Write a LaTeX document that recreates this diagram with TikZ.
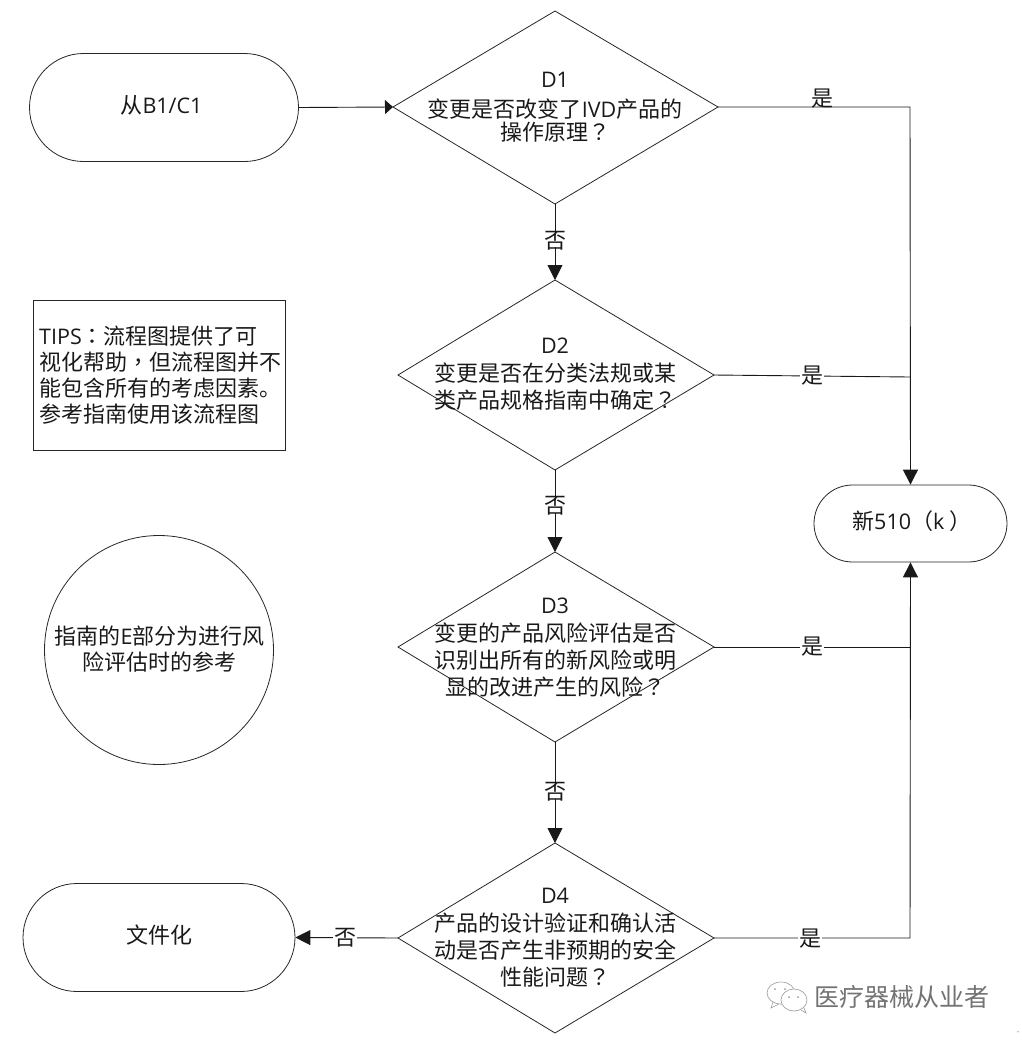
\documentclass[tikz,border=0pt]{standalone}
\usepackage{fontspec}
\setmainfont{Noto Sans CJK SC}
\newfontfamily\tcf{Noto Sans CJK TC}
\newfontfamily\lat{Open Sans}
\newcommand{\la}[1]{{\lat\fontsize{21.5}{27}\selectfont #1}}
\newcommand{\qm}{{\tcf ？}}
\newcommand{\cm}{{\tcf ，}}
\newcommand{\cl}{{\tcf ：}}
\usetikzlibrary{arrows.meta,shapes.geometric}
\tikzset{
  x=1pt,y=-1pt,
  every node/.style={font=\fontsize{22}{27}\selectfont,inner sep=0pt,text=black!90},
  line/.style={draw=black!90,line width=0.9pt},
  arr/.style={line,-{Triangle[length=15pt,width=15pt]}},
  arrsmall/.style={line,-{Triangle[length=8pt,width=14pt]}},
  shp/.style={draw=black!85,line width=0.8pt},
  lbl/.style={fill=white,inner ysep=-3pt,inner xsep=1pt},
  lblnofill/.style={inner sep=0pt},
  ctext/.style={align=center}
}
\begin{document}
\begin{tikzpicture}
\useasboundingbox (0,0) rectangle (1021,1042);
% diamonds
\coordinate (d1l) at (393,107); \coordinate (d1t) at (555,11); \coordinate (d1r) at (718,107); \coordinate (d1b) at (555,204);
\coordinate (d2l) at (398,375); \coordinate (d2t) at (555,280); \coordinate (d2r) at (714,375); \coordinate (d2b) at (555,470);
\coordinate (d3l) at (398,647); \coordinate (d3t) at (555,552); \coordinate (d3r) at (714,647); \coordinate (d3b) at (555,742);
\coordinate (d4l) at (398,938); \coordinate (d4t) at (555,843); \coordinate (d4r) at (714,938); \coordinate (d4b) at (555,1033);
\draw[shp] (d1l)--(d1t)--(d1r)--(d1b)--cycle;
\draw[shp] (d2l)--(d2t)--(d2r)--(d2b)--cycle;
\draw[shp] (d3l)--(d3t)--(d3r)--(d3b)--cycle;
\draw[shp] (d4l)--(d4t)--(d4r)--(d4b)--cycle;
\node[ctext] (d1) at (555,107.5) {\la{D1}\\[3pt]变更是否改变了\la{IVD}产品的\\[-4pt]操作原理\qm};
\node[ctext] (d2) at (555,374.5) {\la{D2}\\[1pt]变更是否在分类法规或某\\类产品规格指南中确定\qm};
\node[ctext] (d3) at (555,648) {\la{D3}\\[1pt]变更的产品风险评估是否\\识别出所有的新风险或明\\显的改进产生的风险\qm};
\node[ctext] (d4) at (555,937.5) {\la{D4}\\[1pt]产品的设计验证和确认活\\动是否产生非预期的安全\\性能问题\qm};
% terminators
\node[shp,minimum width=269pt,minimum height=108pt,rounded corners=54pt] (start) at (164,107.5) {};
\node (startt) at (161.5,105.5) {从\la{B1/C1}};
\node[shp,minimum width=193pt,minimum height=77pt,rounded corners=38.5pt] (new) at (910.5,523.5) {};
\node[anchor=west] (newt) at (852,521.5) {新\la{510}（\la{k}\hspace{5pt}）};
\node[shp,minimum width=272pt,minimum height=108pt,rounded corners=54pt] (doc) at (159,937.5) {};
\node (doct) at (159,935.5) {文件化};
% tips
\node[shp,minimum width=252pt,minimum height=150pt] (tips) at (159,375) {};
\node[align=left,anchor=west] (tipst) at (39,375) {\la{TIPS}\cl 流程图提供了可\\[-1pt]视化帮助\cm 但流程图并不\\[-1pt]能包含所有的考虑因素。\\[-1pt]参考指南使用该流程图};
% circle
\node[shp,circle,minimum size=229pt] (circ) at (159,650) {};
\node[ctext] (circt) at (159.5,649) {指南的\la{E}部分为进行风\\[-1pt]险评估时的参考};
% connectors
\draw[arrsmall] (start.east) -- (d1l);
\draw[arr] (d1b) -- (d2t);
\draw[arr] (d2b) -- (d3t);
\draw[arr] (d3b) -- (d4t);
\draw[arr] (d4l) -- (doc.east);
\coordinate (j1) at (910,107); \coordinate (j2) at (910,377); \coordinate (j3) at (910,647); \coordinate (j4) at (910,938);
\draw[arr] (d1r) -- (j1) -- (new.north);
\draw[line] (d2r) -- (j2);
\draw[line] (d3r) -- (j3);
\draw[arr] (d4r) -- (j4) -- (new.south);
% labels
\node[lbl] (n1) at (555,241) {否};
\node[lbl] (n2) at (555,506) {否};
\node[lbl] (n3) at (555,792) {否};
\node[lbl] (n4) at (345,938) {否};
\node[lblnofill] (y1) at (822,99) {是};
\node[lbl] (y2) at (812,376) {是};
\node[lbl] (y3) at (812,647) {是};
\node[lbl] (y4) at (810,939) {是};
% watermark
\draw[black!40,line width=.6pt] (781,993) ellipse (14 and 11);
\draw[black!40,line width=.6pt,fill=white] (794,1000) ellipse (13 and 11);
\draw[black!40,line width=.6pt] (773,1002) -- (771,1008) -- (779,1004);
\draw[black!40,line width=.6pt] (801,1010) -- (806,1013) -- (804,1008);
\fill[black!40] (775,989) circle (1) (785,989) circle (1) (789,997) circle (1) (798,997) circle (1);
\node[font=\fontsize{25}{28}\selectfont,text=black!55,anchor=west] (wm) at (814,997) {医疗器械从业者};
\node[font=\fontsize{6}{6}\selectfont,text=black!50] (dot) at (1018,1033) {•};
\end{tikzpicture}
\end{document}
